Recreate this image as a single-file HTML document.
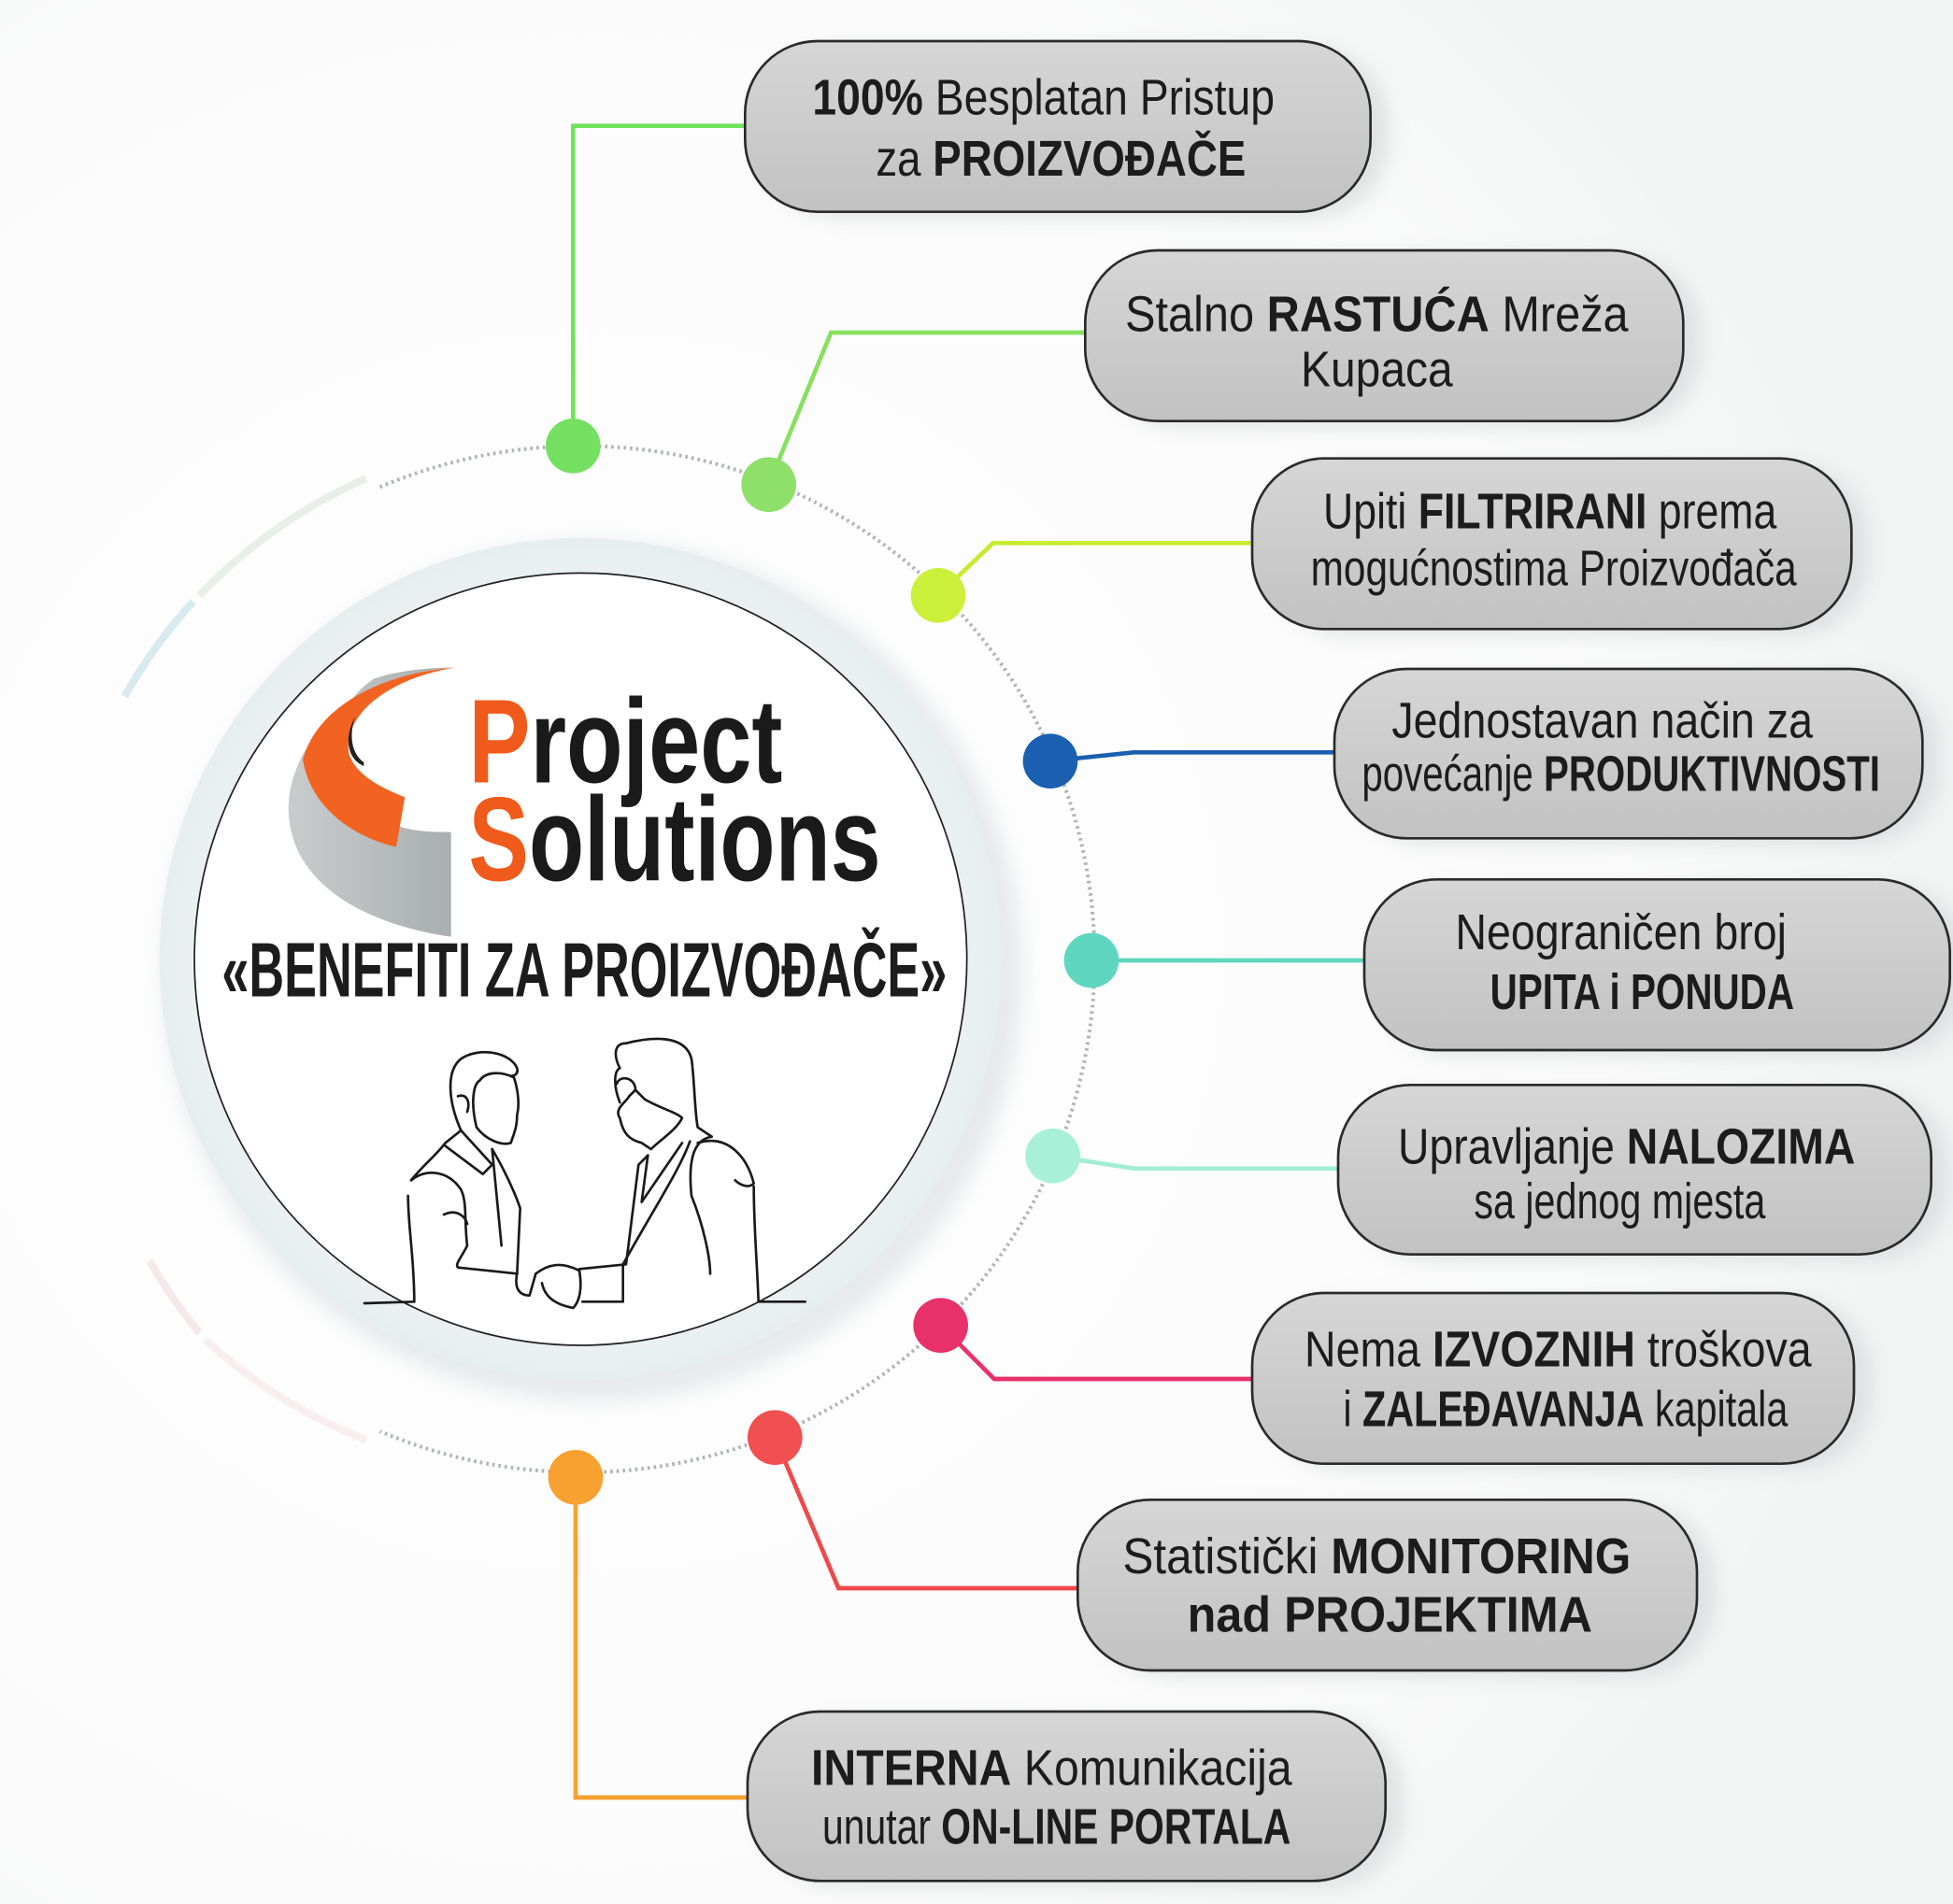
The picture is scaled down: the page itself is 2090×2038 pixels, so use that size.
<!DOCTYPE html>
<html><head><meta charset="utf-8">
<style>
html,body{margin:0;padding:0;background:#fff;}
svg{display:block;}
text{font-family:"Liberation Sans Narrow","Liberation Sans",sans-serif;fill:#1c1c1c;}
.b{font-weight:bold;}
</style></head>
<body>
<svg width="2090" height="2038" viewBox="0 0 1567.5 1528.5" xmlns="http://www.w3.org/2000/svg">
<defs>
<radialGradient id="bg" cx="0.3" cy="0.5" r="0.7">
<stop offset="0" stop-color="#ffffff"/><stop offset="0.75" stop-color="#fbfbfb"/><stop offset="1" stop-color="#f2f4f4"/>
</radialGradient>
<linearGradient id="box" x1="0" y1="0" x2="0" y2="1">
<stop offset="0" stop-color="#d6d6d6"/><stop offset="1" stop-color="#c2c2c2"/>
</linearGradient>
<radialGradient id="halo" cx="0.5" cy="0.5" r="0.5">
<stop offset="0.85" stop-color="#eef3f4"/><stop offset="1" stop-color="#e6eef0"/>
</radialGradient>
<filter id="sh" x="-20%" y="-20%" width="140%" height="160%"><feGaussianBlur stdDeviation="8"/></filter>
<linearGradient id="gr" x1="0" y1="0" x2="1" y2="0">
<stop offset="0" stop-color="#c9cccc"/><stop offset="1" stop-color="#a9aeae"/>
</linearGradient>
</defs>
<rect width="1567.5" height="1528.5" fill="url(#bg)"/>
<circle cx="476" cy="780" r="345" fill="#e6eaeb" filter="url(#sh)"/>
<!-- faint outer arc segments -->
<path d="M 294 384 A 422 422 0 0 0 160 478" fill="none" stroke="#e6f0e8" stroke-width="6"/>
<path d="M 155 483 A 422 422 0 0 0 100 559" fill="none" stroke="#d8eaef" stroke-width="6"/>
<path d="M 120 1012 A 422 422 0 0 0 160 1070" fill="none" stroke="#f6e8e8" stroke-width="6"/>
<path d="M 165 1076 A 422 422 0 0 0 294 1156" fill="none" stroke="#f8eeee" stroke-width="6"/>
<!-- dotted arc -->
<path d="M 305 391 A 412 412 0 1 1 305 1149" fill="none" stroke="#b0b4b4" stroke-width="3" stroke-dasharray="2 3"/>
<circle cx="466" cy="770" r="338" fill="url(#halo)"/>
<circle cx="466" cy="770" r="310" fill="#ffffff" stroke="#222" stroke-width="1.3"/>

<g fill="none" stroke-width="3.5">
<polyline points="460,358 460,101 598,101" stroke="#6fe35a"/>
<polyline points="617,389 667,267 871,267" stroke="#86e05e"/>
<polyline points="753,478 797,436 1005,436" stroke="#c6ec2e"/>
<polyline points="843,611 910,604 1071,604" stroke="#1a5fb0"/>
<polyline points="876,771 1095,771" stroke="#5fd6c0"/>
<polyline points="845,928 910,938 1074,938" stroke="#a2eed4"/>
<polyline points="755,1064 798,1107 1005,1107" stroke="#e8306a"/>
<polyline points="622,1154 673,1275 865,1275" stroke="#f04848"/>
<polyline points="462,1186 462,1443 600,1443" stroke="#f7a030"/>
</g>
<g>
<circle cx="460" cy="358" r="22" fill="#74e062"/>
<circle cx="617" cy="389" r="22" fill="#8ee06a"/>
<circle cx="753" cy="478" r="22" fill="#ccf03a"/>
<circle cx="843" cy="611" r="22" fill="#1a5fb0"/>
<circle cx="876" cy="771" r="22" fill="#5fd6c0"/>
<circle cx="845" cy="928" r="22" fill="#a8f0d8"/>
<circle cx="755" cy="1064" r="22" fill="#e8306a"/>
<circle cx="622" cy="1154" r="22" fill="#f05050"/>
<circle cx="462" cy="1186" r="22" fill="#f8a030"/>
</g>

<g>
<g fill="#c8cdcd" opacity="0.5" filter="url(#sh)">
<rect x="612" y="38" width="502" height="137" rx="60"/>
<rect x="885" y="206" width="480" height="137" rx="60"/>
<rect x="1019" y="373" width="481" height="137" rx="60"/>
<rect x="1085" y="542" width="472" height="136" rx="60"/>
<rect x="1109" y="711" width="470" height="137" rx="60"/>
<rect x="1088" y="876" width="476" height="136" rx="60"/>
<rect x="1019" y="1043" width="483" height="137" rx="60"/>
<rect x="879" y="1209" width="497" height="137" rx="60"/>
<rect x="614" y="1379" width="512" height="136" rx="60"/>
</g>
<g fill="url(#box)" stroke="#2a2a2a" stroke-width="2">
<rect x="598" y="33" width="502" height="137" rx="58"/>
<rect x="871" y="201" width="480" height="137" rx="58"/>
<rect x="1005" y="368" width="481" height="137" rx="58"/>
<rect x="1071" y="537" width="472" height="136" rx="58"/>
<rect x="1095" y="706" width="470" height="137" rx="58"/>
<rect x="1074" y="871" width="476" height="136" rx="58"/>
<rect x="1005" y="1038" width="483" height="137" rx="58"/>
<rect x="865" y="1204" width="497" height="137" rx="58"/>
<rect x="600" y="1374" width="512" height="136" rx="58"/>
</g>
</g>

<g font-size="40">
<text x="652" y="92" textLength="371" lengthAdjust="spacingAndGlyphs"><tspan class="b">100%</tspan> Besplatan Pristup</text>
<text x="703" y="141" textLength="297" lengthAdjust="spacingAndGlyphs">za <tspan class="b">PROIZVOĐAČE</tspan></text>
<text x="903" y="266" textLength="404" lengthAdjust="spacingAndGlyphs">Stalno <tspan class="b">RASTUĆA</tspan> Mreža</text>
<text x="1044" y="310" textLength="122" lengthAdjust="spacingAndGlyphs">Kupaca</text>
<text x="1062" y="424" textLength="364" lengthAdjust="spacingAndGlyphs">Upiti <tspan class="b">FILTRIRANI</tspan> prema</text>
<text x="1052" y="470" textLength="390" lengthAdjust="spacingAndGlyphs">mogućnostima Proizvođača</text>
<text x="1117" y="592" textLength="338" lengthAdjust="spacingAndGlyphs">Jednostavan način za</text>
<text x="1093" y="635" textLength="416" lengthAdjust="spacingAndGlyphs">povećanje <tspan class="b">PRODUKTIVNOSTI</tspan></text>
<text x="1168" y="762" textLength="266" lengthAdjust="spacingAndGlyphs">Neograničen broj</text>
<text x="1196" y="810" textLength="244" lengthAdjust="spacingAndGlyphs" class="b">UPITA i PONUDA</text>
<text x="1122" y="934" textLength="367" lengthAdjust="spacingAndGlyphs">Upravljanje <tspan class="b">NALOZIMA</tspan></text>
<text x="1183" y="978" textLength="234" lengthAdjust="spacingAndGlyphs">sa jednog mjesta</text>
<text x="1047" y="1097" textLength="407" lengthAdjust="spacingAndGlyphs">Nema <tspan class="b">IZVOZNIH</tspan> troškova</text>
<text x="1078" y="1145" textLength="357" lengthAdjust="spacingAndGlyphs">i <tspan class="b">ZALEĐAVANJA</tspan> kapitala</text>
<text x="901" y="1263" textLength="408" lengthAdjust="spacingAndGlyphs">Statistički <tspan class="b">MONITORING</tspan></text>
<text x="953" y="1310" textLength="325" lengthAdjust="spacingAndGlyphs" class="b">nad PROJEKTIMA</text>
<text x="651" y="1433" textLength="386" lengthAdjust="spacingAndGlyphs"><tspan class="b">INTERNA</tspan> Komunikacija</text>
<text x="660" y="1480" textLength="376" lengthAdjust="spacingAndGlyphs">unutar <tspan class="b">ON-LINE PORTALA</tspan></text>
</g>

<path d="M 365 536 C 300 540 240 580 232 640 C 226 700 280 740 362 752 L 362 668 C 330 668 315 665 300 650 C 260 620 262 570 300 545 C 320 538 345 536 365 536 Z" fill="url(#gr)"/>
<path d="M 365 536 C 310 540 255 565 243 610 C 250 650 285 672 318 680 L 325 640 C 300 630 285 620 280 605 C 275 575 310 545 365 536 Z" fill="#f26322"/>
<path d="M 285 575 C 275 595 280 610 292 615 L 292 612 C 282 605 280 590 285 575 Z" fill="#222"/>

<text x="376" y="628" font-size="96" font-weight="bold" textLength="252" lengthAdjust="spacingAndGlyphs"><tspan fill="#f05a1a">P</tspan><tspan fill="#1a1a1a">roject</tspan></text>
<text x="376" y="707" font-size="96" font-weight="bold" textLength="331" lengthAdjust="spacingAndGlyphs"><tspan fill="#f05a1a">S</tspan><tspan fill="#1a1a1a">olutions</tspan></text>
<text x="178" y="800" font-size="62" font-weight="bold" textLength="582" lengthAdjust="spacingAndGlyphs" fill="#111">«BENEFITI ZA PROIZVOĐAČE»</text>

<g transform="scale(0.75) translate(380 1080) scale(0.33333)" fill="none" stroke="#1a1a1a" stroke-width="8" stroke-linejoin="round" stroke-linecap="round">
<path d="M340,390 C300,300 290,200 340,160 C400,120 500,140 520,190 C525,210 510,215 500,215"/>
<path d="M400,230 C380,240 370,300 390,380 C420,420 470,440 500,430 C510,400 520,380 520,340 C530,300 520,250 510,220 C470,200 420,200 400,230 Z"/>
<path d="M330,280 C360,270 370,300 360,330"/>
<path d="M180,550 C220,500 260,470 290,430 L340,390 L440,500 L410,530 L290,440"/>
<path d="M180,550 C230,510 300,520 340,580 C360,620 350,680 360,760 C340,800 320,820 330,830 L520,850"/>
<path d="M170,600 C170,700 190,800 190,940 L30,945"/>
<path d="M440,450 L470,760"/>
<path d="M440,450 C470,500 510,580 530,640 L520,850"/>
<path d="M285,660 C330,640 355,670 360,690"/>
<path d="M520,850 C510,900 530,920 560,920 L580,850"/>
<path d="M580,850 C620,820 660,810 720,840 C730,900 720,940 700,960 C650,950 610,930 600,880"/>
<path d="M850,300 C830,250 830,200 850,190 C830,150 830,110 870,110 C950,90 1060,80 1080,160 C1090,230 1090,330 1100,380 L1145,410"/>
<path d="M840,240 C850,210 900,220 900,260 L880,280 C870,300 830,320 850,350 C860,400 880,420 920,430 L950,450 C980,420 1030,390 1050,350 C1030,330 980,320 930,290 L900,260"/>
<path d="M940,470 L910,500 L870,820 L720,835"/>
<path d="M1050,430 L920,620 L940,470"/>
<path d="M1075,425 C1040,520 960,640 860,820 L860,940 L730,940"/>
<path d="M1145,410 C1080,420 1070,500 1080,600 C1120,700 1140,800 1140,850"/>
<path d="M1100,430 C1200,400 1260,480 1280,560 C1260,580 1230,560 1220,550"/>
<path d="M1280,570 C1280,700 1290,800 1295,940 L1445,940"/>
</g>
</svg>
</body></html>
